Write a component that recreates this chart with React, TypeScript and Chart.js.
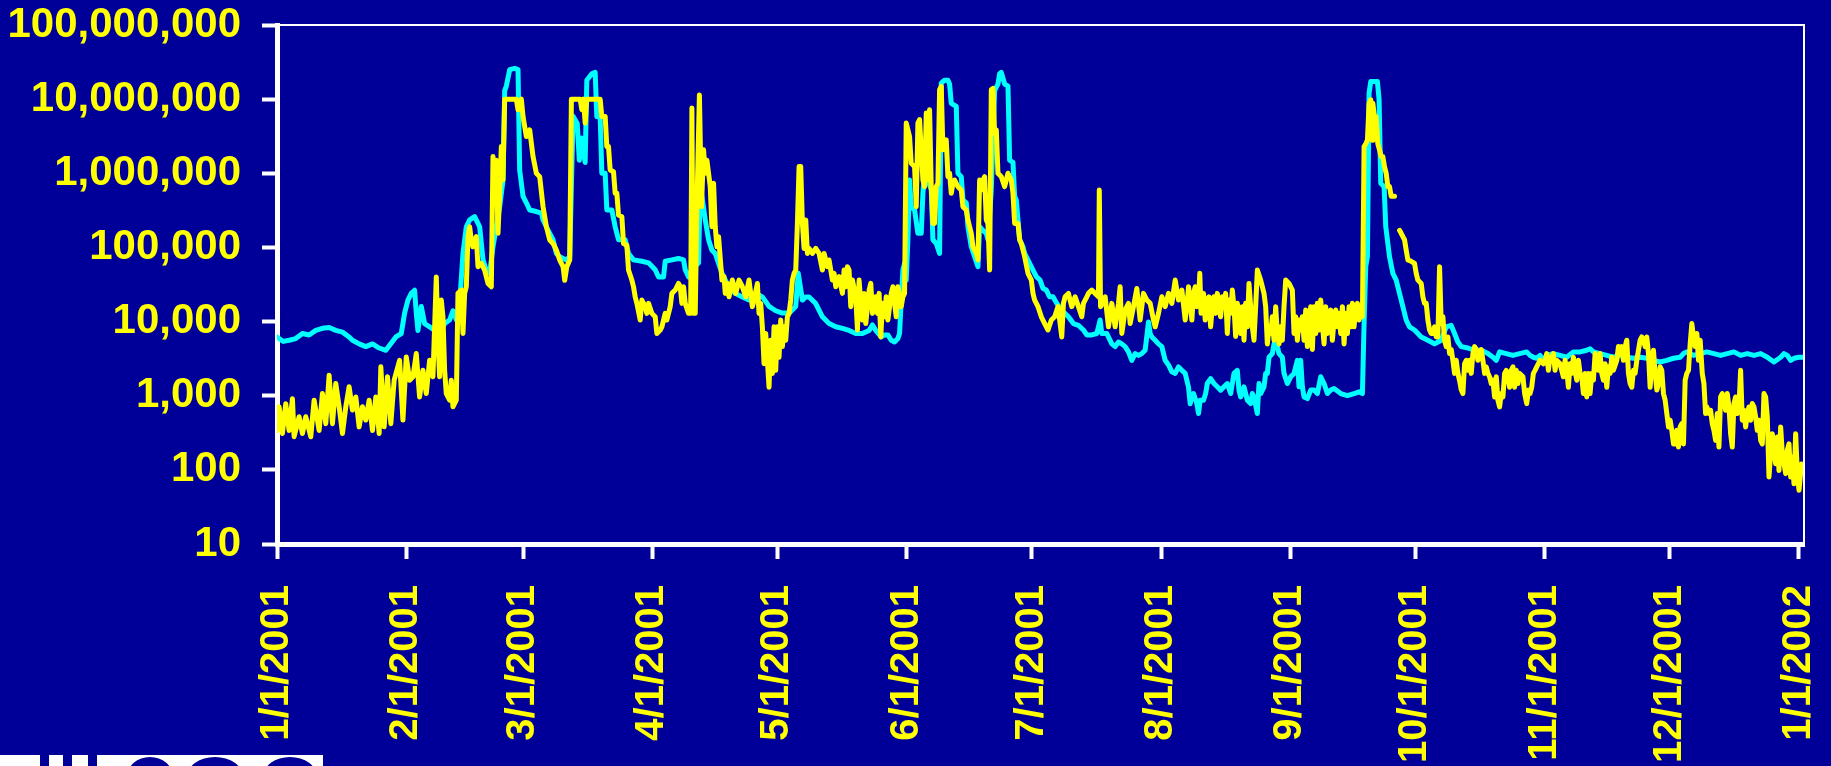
import React, { useEffect, useRef } from "react";
import { Chart, registerables } from "chart.js";

Chart.register(...registerables);

// Day-of-year offsets of the month starts used as x ticks (2001 → 1/1/2002)
const monthDays = [0, 31, 59, 90, 120, 151, 181, 212, 243, 273, 304, 334, 365];
const monthLabels = [
  "1/1/2001", "2/1/2001", "3/1/2001", "4/1/2001", "5/1/2001", "6/1/2001",
  "7/1/2001", "8/1/2001", "9/1/2001", "10/1/2001", "11/1/2001", "12/1/2001", "1/1/2002",
];
const yTickValues = [10, 100, 1000, 10000, 100000, 1000000, 10000000, 100000000];

// Cyan series: [day of year, value]
const cyanQ1: [number, number][] = [
  [0, 6200], [1.5, 5400], [2.9, 5600], [4.5, 5900], [6.1, 6900], [7.7, 6600], [9.3, 7600], [10.9, 8100],
  [12.5, 8300], [14.1, 7600], [15.7, 7200], [17.3, 6200], [18.1, 5600], [19.7, 5000], [21.3, 4600],
  [22.9, 5000], [24.5, 4400], [26.1, 4100], [27.7, 5400], [28.5, 6200], [29.8, 6900], [30.6, 13000],
  [31.4, 19500], [32.2, 24000], [33.0, 26500], [33.4, 13000], [33.8, 7600], [34.6, 16000], [35.4, 9400],
  [36.6, 8500], [37.8, 7600], [39.0, 6900], [40.2, 9400], [41.4, 10500], [42.2, 14000], [43.0, 10500],
  [43.8, 17500], [44.6, 83000], [45.4, 190000], [46.2, 235000], [47.4, 260000], [48.6, 190000],
  [49.4, 68000], [50.2, 49000], [51.0, 45000], [51.8, 102000], [52.6, 190000], [53.4, 355000],
  [54.2, 810000], [54.6, 13000000], [55.0, 15000000], [55.8, 25000000], [57.0, 26000000],
  [57.8, 25000000], [58.2, 1100000], [59.0, 490000], [59.8, 400000], [60.6, 320000], [62.2, 305000],
  [63.4, 290000], [63.8, 235000], [64.6, 190000], [65.4, 155000], [66.2, 127000], [67.0, 83000],
  [67.8, 75000], [68.6, 71000], [69.4, 68000], [70.2, 75000], [71.0, 5900000], [72.0, 4700000],
  [72.5, 1500000], [73.0, 3000000], [73.9, 1400000], [74.3, 18000000], [75.5, 22000000],
  [76.3, 23000000], [76.7, 5800000], [77.5, 5800000], [77.9, 1000000], [78.7, 1000000], [79.1, 320000],
  [80.3, 320000], [81.1, 190000], [81.9, 127000], [83.5, 127000], [84.3, 83000], [85.5, 68000],
  [87.5, 65000], [89.1, 62000],
];
const cyanQ2: [number, number][] = [
  [90.7, 50000], [91.5, 40000], [92.7, 40000], [93.1, 65000], [94.7, 68000], [96.3, 71000],
  [97.5, 68000], [97.9, 50000], [98.7, 40000], [99.5, 50000], [100.7, 59000], [101.1, 62000],
  [101.5, 660000], [101.9, 490000], [102.7, 235000], [103.5, 127000], [104.3, 92000], [105.1, 83000],
  [106.7, 45000], [108.3, 29500], [109.9, 24000], [111.6, 21500], [113.2, 19500], [114.8, 24000],
  [116.4, 21500], [118.0, 16000], [119.6, 14000], [121.2, 13000], [122.8, 13000], [124.4, 16000],
  [125.0, 45000], [126.0, 19500], [126.8, 21500], [127.6, 21500], [129.2, 17500], [130.8, 11600],
  [132.4, 9400], [134.0, 8500], [135.6, 8100], [137.2, 7600], [138.8, 6900], [140.4, 6900],
  [142.0, 7600], [142.8, 9000], [143.6, 7600], [144.9, 6200], [145.7, 6600], [146.5, 6600],
  [147.3, 5600], [148.1, 5300], [148.9, 5900], [149.3, 6900], [149.7, 19500], [150.1, 49500],
  [150.5, 61000], [150.9, 36300], [151.3, 127000], [151.7, 810000], [152.1, 355000], [152.9, 320000],
  [153.7, 155000], [154.5, 155000], [154.9, 537000], [155.3, 1000000], [156.1, 810000], [156.9, 600000],
  [157.3, 127000], [158.1, 113000], [158.9, 83000], [159.3, 16400000], [160.1, 18000000],
  [160.9, 18000000], [161.3, 16000000], [161.7, 8800000], [162.9, 8000000], [163.3, 1000000],
  [164.1, 900000], [164.5, 437000], [165.3, 400000], [165.7, 190000], [166.5, 102000], [167.3, 75000],
  [168.1, 55000], [168.5, 190000], [169.3, 170000], [170.1, 155000], [170.5, 127000], [171.3, 600000],
  [172.1, 13000000], [172.9, 16000000], [173.3, 22000000], [173.7, 23000000], [174.5, 16000000],
  [175.3, 15000000], [175.7, 1500000], [176.5, 1400000], [176.9, 490000], [177.3, 437000],
  [178.1, 127000], [178.9, 102000], [179.3, 83000], [180.5, 61000],
];
const cyanQ3: [number, number][] = [
  [181.3, 49500], [182.1, 40300], [183.0, 36300], [183.7, 28000], [184.5, 26600], [185.3, 21600],
  [186.1, 21600], [187.0, 17600], [188.2, 14200], [189.8, 11600], [191.0, 9400], [192.2, 8900],
  [193.4, 7700], [194.2, 6600], [195.4, 6600], [196.6, 6900], [197.4, 10500], [197.8, 6900],
  [199.0, 6900], [200.2, 5000], [201.0, 4600], [201.8, 5300], [202.6, 5000], [203.4, 4600],
  [204.2, 3900], [205.0, 3000], [205.8, 3700], [206.6, 3500], [207.4, 3700], [208.2, 4100],
  [209.0, 9900], [209.4, 6900], [209.8, 6200], [210.6, 5600], [211.4, 5000], [212.2, 4600],
  [213.0, 3000], [213.8, 2600], [214.6, 2100], [215.4, 2000], [216.2, 2450], [217.0, 2200],
  [217.8, 2000], [218.6, 1300], [219.0, 780], [219.4, 1000], [219.8, 1070], [220.6, 783], [221.0, 575],
  [221.4, 870], [222.2, 870], [222.7, 1070], [223.1, 1460], [223.9, 1700], [224.7, 1460], [225.5, 1320],
  [226.3, 1190], [227.1, 1320], [227.9, 1460], [228.7, 1070], [229.5, 2000], [230.3, 2200],
  [230.7, 1190], [231.1, 963], [231.9, 1320], [232.7, 870], [233.5, 783], [233.9, 1070], [234.3, 963],
  [235.1, 575], [235.5, 1460], [235.9, 1070], [236.7, 1320], [237.1, 2000], [237.5, 2000],
  [237.9, 3300], [238.7, 3700], [239.1, 5000], [239.9, 4600], [240.3, 3700], [241.1, 3300],
  [241.5, 2000], [242.3, 1460], [243.1, 1800], [243.9, 2000], [244.7, 3000], [245.1, 1320],
  [245.5, 3000], [245.9, 1320], [246.3, 963], [247.1, 915], [247.9, 1190], [248.7, 1190], [249.5, 1070],
  [250.3, 1800], [251.1, 1460], [251.9, 1070], [252.7, 1190], [253.5, 1250], [255.1, 1070],
  [256.7, 1000], [258.3, 1070], [259.5, 1130], [260.3, 1070], [260.7, 9400], [261.1, 55000],
  [261.5, 75000], [261.9, 12000000], [262.3, 17300000], [263.1, 17300000], [263.9, 17300000],
  [264.3, 9800000], [264.7, 733000], [265.5, 661000], [265.9, 190000], [266.8, 75000], [267.6, 44700],
  [268.4, 36300], [269.2, 24000], [270.0, 15900], [270.8, 10500], [271.6, 8500], [272.8, 7700],
];
const cyanQ4: [number, number][] = [
  [274.4, 6200], [276.0, 5600], [277.6, 5000], [279.2, 5600], [280.4, 8500], [281.6, 8900],
  [282.4, 6900], [283.2, 5300], [284.0, 4600], [285.6, 4400], [287.2, 4100], [288.8, 4100],
  [290.4, 3700], [291.6, 3300], [292.4, 3000], [293.2, 3900], [294.8, 3700], [296.4, 3500],
  [298.0, 3700], [299.7, 3900], [300.5, 3500], [301.3, 3300], [302.1, 3200], [302.9, 3500],
  [303.7, 3000], [304.5, 3500], [306.1, 3700], [307.7, 3500], [309.3, 3300], [310.9, 3900],
  [312.5, 3900], [314.1, 4100], [314.9, 4300], [315.7, 3900], [317.3, 3700], [318.9, 3500],
  [320.5, 3300], [322.1, 3500], [323.7, 3300], [325.3, 3200], [326.9, 3300], [328.5, 3200],
  [330.1, 3000], [331.7, 2850], [333.3, 3000], [334.9, 3200], [336.5, 3300], [337.3, 3700],
  [338.1, 3900], [339.7, 3500], [341.3, 3700], [342.9, 3900], [344.6, 3700], [346.2, 3500],
  [347.8, 3700], [349.4, 3900], [351.0, 3500], [352.6, 3700], [354.2, 3500], [355.8, 3700],
  [357.4, 3300], [359.0, 2850], [360.6, 3300], [361.4, 3700], [362.2, 3500], [363.0, 3000],
  [363.8, 3200], [365.0, 3300], [366.0, 3300],
];

// Yellow series: [day of year, value]; null marks a break in the record
const yellowQ1: [number, number | null][] = [
  [0, 340], [0.5, 710], [1.3, 310], [2.1, 780], [2.9, 340], [3.7, 910], [4.1, 280], [5.3, 520],
  [6.1, 310], [6.9, 520], [8.1, 280], [8.9, 870], [10.1, 340], [10.9, 1070], [11.7, 420], [12.5, 1890],
  [13.3, 420], [14.1, 1460], [14.9, 710], [15.7, 310], [16.5, 710], [17.3, 1320], [18.1, 640],
  [18.9, 960], [19.7, 380], [20.5, 710], [21.3, 470], [22.1, 870], [22.9, 340], [23.7, 960], [24.5, 310],
  [24.9, 2450], [25.7, 380], [26.5, 1800], [27.3, 420], [28.1, 1620], [29.4, 3000], [30.2, 470],
  [31.0, 3340], [31.8, 1620], [32.6, 1800], [33.4, 3700], [34.2, 960], [35.0, 2200], [35.8, 1070],
  [36.6, 3000], [37.4, 1800], [38.2, 40000], [38.6, 5600], [39.0, 1800], [39.4, 19500], [39.8, 11600],
  [40.2, 2200], [40.6, 1070], [41.4, 870], [41.8, 1620], [42.2, 710], [43.0, 870], [43.4, 24000],
  [44.2, 26600], [44.6, 6900], [45.0, 24000], [45.4, 29500], [45.8, 140000], [46.2, 190000],
  [46.6, 126000], [47.0, 102000], [47.8, 140000], [48.2, 55000], [49.0, 61000], [49.8, 49500],
  [50.6, 32700], [51.4, 29500], [51.8, 1680000], [52.2, 437000], [52.6, 1500000], [53.0, 155000],
  [53.4, 537000], [53.8, 2290000], [54.2, 810000], [54.6, 10000000], [57.4, 10000000], [57.8, 7180000],
  [58.6, 10000000], [59.0, 5840000], [59.8, 3130000], [60.6, 3850000], [61.4, 1680000],
  [62.2, 1000000], [63.0, 900000], [63.8, 355000], [64.6, 190000], [65.4, 126000], [66.2, 113000],
  [67.0, 92000], [67.8, 67600], [68.6, 55000], [69.0, 36000], [69.5, 55000], [70.2, 67600],
  [70.6, 10000000], [72.7, 10000000], [73.1, 7200000], [73.5, 10000000], [73.9, 4750000],
  [74.3, 10000000], [77.5, 10000000], [77.9, 5840000], [78.7, 5840000], [79.1, 2290000],
  [79.5, 2290000], [79.9, 1110000], [80.7, 1050000], [81.1, 537000], [81.5, 537000], [81.9, 274000],
  [82.7, 260000], [83.1, 113000], [83.9, 107000], [84.3, 49500], [85.1, 36300], [85.5, 29500],
  [85.9, 21600], [86.3, 17600], [87.1, 10500], [87.5, 19500], [88.3, 15900], [88.7, 12900],
  [89.1, 17600], [89.9, 12900],
];
const yellowQ2: [number, number | null][] = [
  [90.7, 11600], [91.1, 6900], [91.9, 7700], [92.3, 8500], [92.7, 10500], [93.1, 12900], [93.5, 10500],
  [94.3, 15900], [94.7, 24000], [95.5, 26600], [96.3, 32700], [96.7, 29500], [97.1, 17600],
  [97.5, 29500], [97.9, 17600], [98.7, 12900], [99.2, 12900], [99.5, 7600000], [99.8, 12900],
  [100.3, 12900], [100.7, 355000], [101.3, 11400000], [101.8, 355000], [102.3, 2070000],
  [102.7, 1000000], [103.1, 1500000], [103.5, 1000000], [103.9, 661000], [104.3, 190000],
  [104.7, 733000], [105.1, 190000], [105.5, 102000], [105.9, 140000], [106.7, 36300], [107.2, 40300],
  [107.5, 24000], [108.0, 32700], [108.4, 21600], [109.2, 36300], [110.0, 24000], [110.8, 36300],
  [111.6, 29500], [112.4, 21600], [113.2, 36300], [114.0, 15900], [114.4, 19500], [115.2, 32700],
  [115.6, 12900], [116.0, 17600], [116.4, 8500], [116.8, 2700], [117.2, 6900], [117.6, 3000],
  [118.0, 1300], [118.4, 5600], [118.8, 2000], [119.2, 8500], [119.6, 2200], [120.0, 8500],
  [120.4, 3300], [120.8, 10500], [121.2, 4600], [121.6, 8500], [122.0, 5600], [122.4, 11600],
  [122.8, 12900], [123.2, 19500], [123.6, 36300], [124.0, 44700], [124.4, 49500], [124.8, 211000],
  [125.2, 1230000], [125.6, 1230000], [126.0, 211000], [126.4, 97000], [126.8, 235000], [127.2, 83000],
  [127.6, 97000], [128.4, 83000], [129.2, 97000], [130.0, 83000], [130.8, 49500], [131.2, 83000],
  [132.0, 55000], [132.4, 67600], [133.2, 36300], [133.6, 44700], [134.0, 29500], [134.8, 40300],
  [135.6, 24000], [136.0, 49500], [136.4, 29500], [136.8, 55000], [137.2, 49500], [137.6, 15900],
  [138.0, 36300], [138.8, 21600], [139.2, 7700], [139.6, 36300], [140.0, 17600], [140.4, 10500],
  [140.8, 24000], [141.2, 9400], [142.0, 26600], [142.4, 32700], [142.8, 12900], [143.6, 21600],
  [144.0, 12900], [144.4, 24000], [144.8, 6200], [145.2, 17600], [145.7, 11600], [146.1, 21600],
  [146.5, 10500], [146.9, 15900], [147.3, 24000], [147.7, 29500], [148.1, 17600], [148.5, 11600],
  [148.9, 29500], [149.3, 24000], [149.7, 15900], [150.1, 21600], [150.5, 24000], [150.9, 4750000],
  [151.7, 3130000], [152.1, 1370000], [152.9, 1230000], [153.3, 355000], [153.7, 4750000],
  [154.1, 5300000], [154.5, 2070000], [154.9, 810000], [155.3, 661000], [155.7, 6500000],
  [156.1, 810000], [156.5, 7200000], [156.9, 661000], [157.3, 211000], [157.7, 211000],
  [158.1, 661000], [158.5, 733000], [158.9, 13400000], [159.3, 14800000], [159.7, 2070000],
  [160.1, 2300000], [160.5, 2820000], [160.9, 900000], [161.3, 1000000], [161.7, 537000],
  [162.1, 733000], [162.5, 810000], [163.3, 661000], [164.1, 596000], [164.5, 355000], [165.3, 320000],
  [165.7, 235000], [166.1, 190000], [166.5, 155000], [166.9, 102000], [167.7, 83000], [168.1, 68000],
  [168.5, 810000], [168.9, 596000], [169.3, 810000], [169.7, 900000], [170.1, 235000], [170.5, 211000],
  [170.9, 49500], [171.3, 13400000], [171.7, 14000000], [172.1, 3470000], [172.5, 3850000],
  [172.9, 1000000], [173.7, 900000], [174.5, 661000], [175.3, 1000000], [176.1, 810000],
  [176.5, 537000], [176.9, 211000], [177.7, 211000], [178.1, 127000], [178.5, 113000], [179.3, 75000],
  [180.1, 44700], [180.9, 36300],
];
const yellowQ3: [number, number | null][] = [
  [181.3, 24000], [181.7, 19500], [182.5, 15900], [183.3, 11600], [184.1, 9400], [184.9, 7700],
  [185.7, 10500], [186.5, 11600], [187.3, 15900], [188.2, 6200], [188.6, 17600], [189.0, 21600],
  [189.8, 24000], [190.2, 19500], [190.6, 15900], [191.4, 21600], [192.2, 15900], [193.0, 11600],
  [193.4, 17600], [194.2, 21600], [194.6, 24000], [195.4, 26600], [196.2, 24000], [197.0, 21600],
  [197.2, 596000], [197.5, 15900], [198.6, 21600], [199.4, 8500], [200.2, 17600], [201.0, 8500],
  [201.8, 17600], [202.2, 29500], [202.6, 6900], [203.4, 14300], [204.2, 17600], [204.6, 9400],
  [205.4, 15900], [206.2, 28000], [207.0, 10500], [207.8, 24000], [208.6, 19500], [209.4, 17600],
  [210.2, 10500], [210.6, 8500], [211.4, 12900], [212.2, 21600], [213.0, 15900], [213.8, 24000],
  [214.6, 17600], [215.4, 36300], [216.2, 19500], [217.0, 26600], [217.8, 10500], [218.2, 15900],
  [218.6, 29500], [219.0, 19500], [219.4, 10500], [219.8, 24000], [220.2, 29500], [220.6, 15900],
  [221.0, 19500], [221.3, 44700], [221.6, 12900], [222.2, 24000], [222.6, 10500], [223.0, 19500],
  [223.5, 21600], [223.9, 8500], [224.3, 15900], [224.7, 21600], [225.1, 12900], [225.5, 24000],
  [225.9, 15900], [226.3, 11600], [226.7, 21600], [227.1, 15900], [227.5, 24000], [227.9, 6900],
  [228.3, 19500], [228.7, 12900], [229.1, 26600], [229.5, 15900], [229.9, 6300], [230.3, 17600],
  [230.7, 12900], [231.1, 6900], [231.5, 15900], [231.9, 5600], [232.3, 17600], [232.7, 8500],
  [233.1, 32700], [233.5, 15900], [233.9, 8500], [234.3, 5600], [234.7, 15900], [235.1, 49500],
  [235.9, 36300], [236.7, 24000], [237.1, 15900], [237.5, 5000], [237.9, 8500], [238.3, 6900],
  [238.7, 11600], [239.1, 5600], [239.5, 15900], [239.9, 6900], [240.3, 5000], [240.7, 8500],
  [241.1, 5600], [241.5, 15900], [241.9, 36300], [242.7, 32700], [243.5, 26600], [243.9, 6900],
  [244.3, 11600], [244.7, 5600], [245.1, 10500], [245.5, 7700], [245.9, 11600], [246.3, 5600],
  [246.7, 14300], [247.1, 4600], [247.5, 9400], [247.9, 15900], [248.3, 4200], [248.7, 15900],
  [249.1, 6900], [249.5, 17600], [249.9, 7700], [250.3, 19500], [250.7, 9400], [251.1, 5000],
  [251.5, 15900], [251.9, 6900], [252.3, 11600], [252.7, 14300], [253.1, 5600], [253.5, 10500],
  [253.9, 14300], [254.3, 8500], [254.7, 12900], [255.1, 6900], [255.5, 15900], [255.9, 5000],
  [256.3, 12900], [256.7, 6900], [257.1, 15900], [257.5, 8500], [257.9, 17600], [258.3, 8500],
  [258.7, 15900], [259.1, 17600], [259.5, 10500], [259.9, 15900], [260.3, 11600], [260.7, 2300000],
  [261.1, 2500000], [261.5, 2800000], [261.9, 8800000], [262.3, 9800000], [262.6, 2800000],
  [262.8, 8800000], [263.2, 5800000], [263.6, 5800000], [264.0, 2500000], [264.4, 2070000],
  [264.8, 1680000], [265.2, 1680000], [265.6, 1230000], [266.0, 1000000], [266.4, 661000],
  [266.8, 661000], [267.2, 490000], [268.0, 490000], [268.4, null], [269.2, 170000], [269.6, 155000],
  [270.0, 140000], [270.4, 127000], [270.8, 92000], [271.2, 68000], [272.0, 65000], [272.8, 61000],
];
const yellowQ4: [number, number | null][] = [
  [273.2, 44700], [273.6, 36300], [274.4, 32700], [274.8, 21600], [275.2, 17600], [275.6, 17600],
  [276.0, 10500], [276.4, 7700], [276.8, 6900], [277.2, 6900], [277.6, 8500], [278.0, 6200],
  [278.4, 6200], [278.8, 55000], [279.2, 9400], [279.6, 11600], [280.0, 5600], [280.4, 4600],
  [280.8, 6200], [281.2, 3700], [281.6, 4200], [282.0, 3000], [282.4, 2000], [282.8, 3000],
  [283.2, 2000], [283.6, 1600], [284.0, 1200], [284.4, 1070], [284.8, 2700], [285.2, 3000],
  [285.6, 2200], [286.0, 3000], [286.4, 2000], [286.8, 3700], [287.2, 4600], [287.6, 4200],
  [288.0, 3000], [288.4, 3700], [288.8, 4200], [289.2, 3000], [289.6, 2000], [290.0, 2450],
  [290.4, 2000], [290.8, 1800], [291.2, 1460], [291.6, 1620], [292.0, 963], [292.4, 1800], [292.8, 870],
  [293.2, 706], [293.6, 1070], [294.0, 963], [294.4, 2000], [294.8, 2200], [295.2, 1800], [295.6, 1300],
  [296.0, 2200], [296.4, 2450], [296.8, 1300], [297.2, 2200], [297.6, 1460], [298.0, 2000],
  [298.8, 1800], [299.2, 1070], [299.7, 783], [300.1, 1190], [300.5, 1070], [300.9, 1300], [301.3, 2000],
  [301.7, 2200], [302.1, 2450], [302.9, 3000], [303.7, 2700], [304.1, 3000], [304.5, 3700],
  [304.9, 2200], [305.3, 3300], [305.7, 3000], [306.1, 3700], [306.5, 2200], [306.9, 3000],
  [307.7, 2700], [308.1, 2200], [308.5, 1800], [308.9, 3000], [309.3, 2200], [309.7, 1300],
  [310.1, 2700], [310.5, 2000], [310.9, 3300], [311.3, 2200], [311.7, 1620], [312.1, 3000],
  [312.5, 2000], [312.9, 1800], [313.3, 1070], [313.7, 2000], [314.1, 963], [314.5, 2000], [314.9, 1070],
  [315.3, 2000], [315.7, 1620], [316.1, 3700], [316.5, 3000], [316.9, 2200], [317.3, 3700],
  [317.7, 2000], [318.1, 1620], [318.5, 2700], [318.9, 1300], [319.3, 2450], [319.7, 2000],
  [320.1, 3300], [320.5, 2200], [321.3, 3000], [321.7, 4600], [322.1, 3700], [322.5, 4600],
  [322.9, 3000], [323.3, 4600], [323.7, 5600], [324.1, 2000], [324.5, 1460], [324.9, 1300],
  [325.3, 2200], [325.7, 2000], [326.1, 3000], [326.9, 5600], [327.3, 6200], [327.7, 5600],
  [328.1, 4600], [328.5, 6200], [328.9, 3700], [329.3, 1300], [329.7, 3000], [330.1, 4100],
  [330.5, 2000], [330.9, 1190], [331.3, 1460], [331.7, 2450], [332.1, 2200], [332.5, 1070], [332.9, 870],
  [333.3, 575], [333.7, 379], [334.1, 467], [334.5, 341], [334.9, 224], [335.3, 224], [335.7, 341],
  [336.1, 203], [336.5, 379], [336.9, 421], [337.3, 224], [337.7, 1620], [338.1, 2000], [338.5, 2200],
  [338.9, 5000], [339.3, 9400], [339.7, 6200], [340.1, 4600], [340.5, 6900], [340.9, 3000],
  [341.3, 5600], [341.8, 2000], [342.2, 1460], [342.6, 575], [342.9, 706], [343.4, 575], [343.8, 637],
  [344.2, 421], [344.6, 341], [345.0, 250], [345.4, 575], [345.8, 203], [346.2, 963], [346.6, 1070],
  [347.0, 870], [347.4, 637], [347.8, 1070], [348.2, 706], [348.6, 308], [349.0, 203], [349.4, 783],
  [349.8, 963], [350.2, 575], [350.6, 706], [351.0, 2200], [351.4, 467], [351.8, 637], [352.2, 379],
  [352.6, 575], [353.0, 706], [353.4, 467], [353.8, 783], [354.2, 706], [354.6, 517], [355.0, 341],
  [355.4, 467], [355.8, 250], [356.2, 224], [356.6, 1070], [357.0, 963], [357.4, 517], [357.8, 80],
  [358.2, 168], [358.6, 308], [359.0, 185], [359.4, 121], [359.8, 278], [360.2, 98], [360.6, 379],
  [361.0, 168], [361.4, 121], [361.8, 89], [362.2, 185], [362.6, 224], [363.0, 80], [363.4, 149],
  [363.8, 65], [364.2, 308], [364.6, 89], [365.0, 53], [365.6, 120],
];

const cyanSeries = [...cyanQ1, ...cyanQ2, ...cyanQ3, ...cyanQ4];
const yellowSeries = [...yellowQ1, ...yellowQ2, ...yellowQ3, ...yellowQ4];

const BG = "#000099";
const YELLOW = "#FFFF00";
const CYAN = "#00FFFF";
const WHITE = "#ffffff";
const FONT = "'Liberation Sans', Arial, Helvetica, sans-serif";

// Thin white frame on the top and right edges of the plot area
const frameLines = {
  id: "frameLines",
  afterDatasetsDraw(chart: any) {
    const { ctx, chartArea } = chart;
    ctx.save();
    ctx.strokeStyle = WHITE;
    ctx.lineWidth = 2;
    ctx.beginPath();
    ctx.moveTo(chartArea.left, chartArea.top);
    ctx.lineTo(chartArea.right, chartArea.top);
    ctx.lineTo(chartArea.right, chartArea.bottom);
    ctx.stroke();
    ctx.restore();
  },
};

export default function App() {
  const canvasRef = useRef<HTMLCanvasElement | null>(null);

  useEffect(() => {
    if (!canvasRef.current) return;
    const toPoints = (s: [number, number | null][]) => s.map(([x, y]) => ({ x, y }));

    const chart = new Chart(canvasRef.current, {
      type: "line",
      data: {
        datasets: [
          {
            label: "Yellow",
            data: toPoints(yellowSeries) as any,
            borderColor: YELLOW,
            borderWidth: 5,
            pointRadius: 0,
            borderJoinStyle: "round",
            borderCapStyle: "round",
            spanGaps: false,
            tension: 0,
          },
          {
            label: "Cyan",
            data: toPoints(cyanSeries) as any,
            borderColor: CYAN,
            borderWidth: 5,
            pointRadius: 0,
            borderJoinStyle: "round",
            borderCapStyle: "round",
            tension: 0,
          },
        ],
      },
      options: {
        responsive: false,
        devicePixelRatio: 1,
        animation: false,
        layout: { padding: { top: 25, right: 27, left: 0, bottom: 0 } },
        plugins: {
          legend: { display: false },
          tooltip: { enabled: false },
        },
        scales: {
          x: {
            type: "linear",
            min: 0,
            max: 366.2,
            afterBuildTicks: (scale: any) => {
              scale.ticks = monthDays.map((v) => ({ value: v }));
            },
            afterFit: (scale: any) => {
              scale.height = 222;
              scale.paddingLeft = 0;
              scale.paddingRight = 0;
            },
            ticks: {
              autoSkip: false,
              minRotation: 90,
              maxRotation: 90,
              padding: 26,
              color: YELLOW,
              font: { family: FONT, size: 40, weight: "bold" },
              callback: (_v: any, i: number) => monthLabels[i],
            },
            grid: {
              display: true,
              drawOnChartArea: false,
              drawTicks: true,
              tickLength: 15,
              tickWidth: 4,
              tickColor: WHITE,
              color: WHITE,
            },
            border: { display: true, color: WHITE, width: 5 },
          },
          y: {
            type: "logarithmic",
            min: 10,
            max: 100000000,
            afterBuildTicks: (scale: any) => {
              scale.ticks = yTickValues.map((v) => ({ value: v }));
            },
            afterFit: (scale: any) => {
              scale.width = 277;
              scale.paddingTop = 0;
              scale.paddingBottom = 0;
            },
            ticks: {
              padding: 21,
              color: YELLOW,
              font: { family: FONT, size: 42, weight: "bold" },
              callback: (v: any) => Number(v).toLocaleString("en-US"),
            },
            grid: {
              display: true,
              drawOnChartArea: false,
              drawTicks: true,
              tickLength: 15,
              tickWidth: 4,
              tickColor: WHITE,
              color: WHITE,
            },
            border: { display: true, color: WHITE, width: 5 },
          },
        },
      },
      plugins: [frameLines],
    });

    return () => chart.destroy();
  }, []);

  return (
    <div
      style={{
        position: "fixed",
        left: 0,
        top: 0,
        width: 1831,
        height: 766,
        background: BG,
        overflow: "hidden",
      }}
    >
      <canvas ref={canvasRef} width={1831} height={766} style={{ display: "block" }} />
      {/* white strip of the slide footer logo, mostly cut off at the bottom edge */}
      <div
        style={{
          position: "absolute",
          left: 0,
          top: 755,
          width: 323,
          height: 11,
          background: WHITE,
          overflow: "hidden",
        }}
      >
        {[40, 63, 88].map((l) => (
          <div key={l} style={{ position: "absolute", left: l, top: 0, width: 9, height: 11, background: BG }} />
        ))}
        {[[127, 46], [187, 56], [263, 54]].map(([l, w]) => (
          <div
            key={l}
            style={{
              position: "absolute",
              left: l,
              top: 2,
              width: w,
              height: 40,
              borderRadius: "50%",
              border: `9px solid ${BG}`,
              boxSizing: "border-box",
            }}
          />
        ))}
      </div>
    </div>
  );
}
